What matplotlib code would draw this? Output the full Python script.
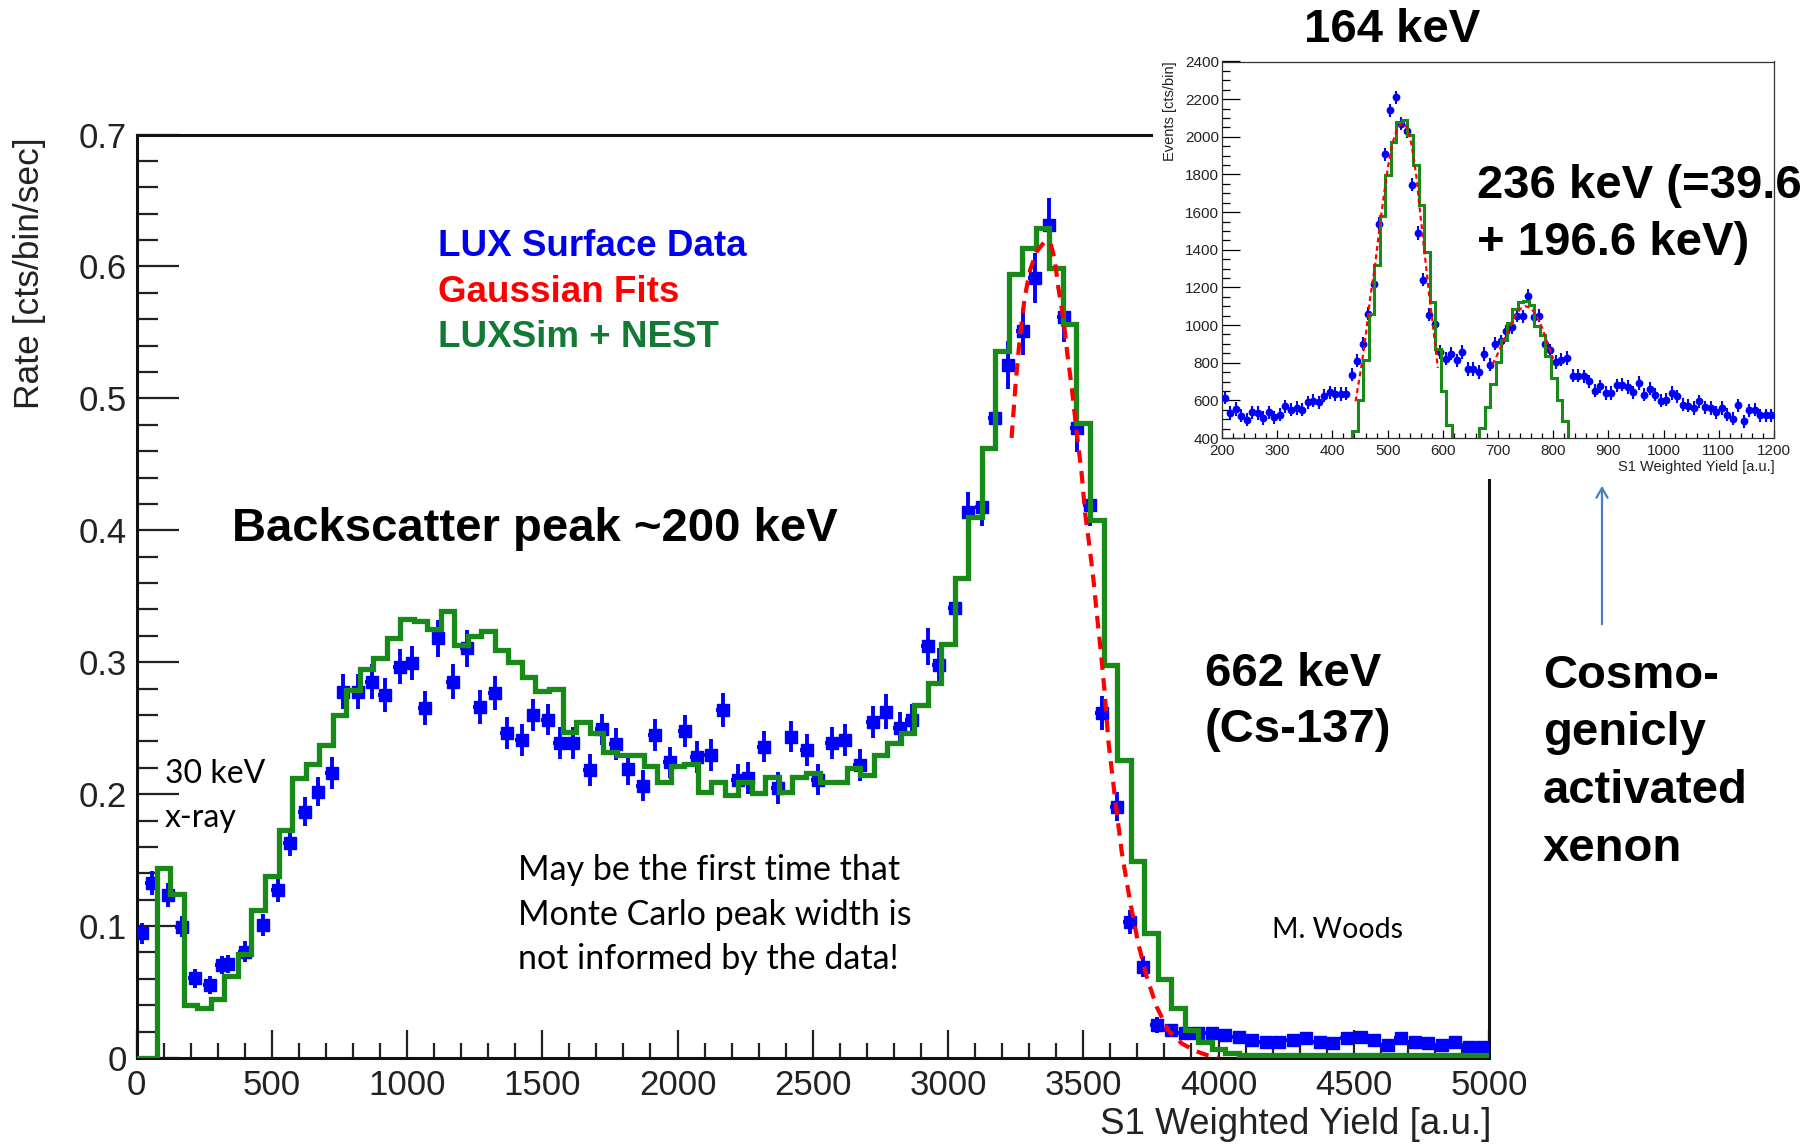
import matplotlib
matplotlib.use("Agg")
import matplotlib.pyplot as plt
import numpy as np
from matplotlib.patches import Rectangle, FancyArrowPatch
from matplotlib.ticker import MultipleLocator, FixedLocator, FixedFormatter

W, H, DPI = 1817, 1145, 100

# ---------------- main spectrum: LUX surface data ----------------
data_x = [19, 56, 118, 167, 216, 272, 315, 340, 401, 469, 524, 568, 623, 672, 722,
          765, 820, 870, 919, 974, 1017, 1066, 1116, 1171, 1220, 1270, 1325, 1368,
          1424, 1467, 1522, 1566, 1615, 1677, 1720, 1772, 1818, 1871, 1917, 1972,
          2026, 2071, 2124, 2169, 2224, 2261, 2320, 2372, 2421, 2477, 2520, 2572,
          2618, 2674, 2723, 2772, 2821, 2867, 2927, 2967, 3026, 3075, 3124, 3174,
          3223, 3278, 3322, 3375, 3427, 3476, 3525, 3568, 3623, 3672, 3722, 3771,
          3825, 3875, 3925, 3975, 4025, 4075, 4125, 4175, 4225, 4275, 4325, 4375,
          4425, 4475, 4525, 4575, 4625, 4675, 4725, 4775, 4825, 4875, 4925, 4975]
data_y = [0.0945, 0.1324, 0.1236, 0.0995, 0.0604, 0.0553, 0.0705, 0.0713, 0.0806,
          0.1008, 0.1274, 0.1628, 0.1867, 0.2019, 0.2158, 0.2777, 0.2777, 0.2853,
          0.2752, 0.2967, 0.2992, 0.2651, 0.3182, 0.2853, 0.3106, 0.2663, 0.2765,
          0.2462, 0.2411, 0.2600, 0.2565, 0.2390, 0.2386, 0.2183, 0.2490, 0.2380,
          0.2190, 0.2065, 0.2449, 0.2240, 0.2480, 0.2280, 0.2297, 0.2638, 0.2110,
          0.2120, 0.2360, 0.2045, 0.2436, 0.2335, 0.2110, 0.2390, 0.2410, 0.2220,
          0.2545, 0.2626, 0.2500, 0.2563, 0.3120, 0.2980, 0.3410, 0.4140, 0.4180,
          0.4850, 0.5254, 0.5507, 0.5911, 0.6315, 0.5620, 0.4774, 0.4193, 0.2613,
          0.1905, 0.1033, 0.0692, 0.0250,
          0.0210, 0.0187, 0.0187, 0.0187, 0.0174, 0.0162, 0.0136, 0.0124, 0.0124,
          0.0136, 0.0149, 0.0124, 0.0111, 0.0149, 0.0162, 0.0136, 0.0099, 0.0149,
          0.0124, 0.0111, 0.0099, 0.0124, 0.0087, 0.0087]
data_yerr = [0.008, 0.009, 0.009, 0.008, 0.007, 0.007, 0.007, 0.007, 0.008, 0.008,
             0.009, 0.010, 0.011, 0.011, 0.012, 0.013, 0.013, 0.013, 0.013, 0.013,
             0.013, 0.013, 0.014, 0.013, 0.014, 0.013, 0.013, 0.012, 0.012, 0.012,
             0.012, 0.012, 0.012, 0.012, 0.012, 0.012, 0.012, 0.012, 0.012, 0.012,
             0.012, 0.012, 0.012, 0.013, 0.012, 0.012, 0.012, 0.012, 0.012, 0.012,
             0.012, 0.012, 0.012, 0.012, 0.012, 0.013, 0.012, 0.012, 0.014, 0.013,
             0.015, 0.015, 0.015, 0.017, 0.018, 0.018, 0.019, 0.020, 0.019, 0.018,
             0.016, 0.013, 0.011, 0.009, 0.008, 0.006,
             0.004, 0.004, 0.004, 0.004, 0.004, 0.004, 0.004, 0.004, 0.004, 0.004,
             0.004, 0.004, 0.004, 0.004, 0.004, 0.004, 0.004, 0.004, 0.004, 0.004,
             0.004, 0.004, 0.004, 0.004]
data_xerr = 25

# LUXSim + NEST histogram (bin centres, width 50)
mc_center = [0, 50, 100, 150, 200, 250, 300, 350, 400, 450, 500, 550, 600, 650, 700,
             750, 800, 850, 900, 950, 1000, 1050, 1100, 1150, 1200, 1250, 1300, 1350,
             1400, 1450, 1500, 1550, 1600, 1650, 1700, 1750, 1800, 1850, 1900, 1950,
             2000, 2050, 2100, 2150, 2200, 2250, 2300, 2350, 2400, 2450, 2500, 2550,
             2600, 2650, 2700, 2750, 2800, 2850, 2900, 2950, 3000, 3050, 3100, 3150,
             3200, 3250, 3300, 3350, 3400, 3450, 3500, 3550, 3600, 3650, 3700, 3750,
             3800, 3850, 3900, 3950, 4000, 4050, 4100, 4150, 4200, 4250, 4300, 4350,
             4400, 4450, 4500, 4550, 4600, 4650, 4700, 4750, 4800, 4850, 4900, 4950, 5000]
mc_rate = [0.0, 0.0, 0.144, 0.124, 0.040, 0.038, 0.045, 0.062, 0.079, 0.112, 0.138,
           0.173, 0.212, 0.223, 0.237, 0.260, 0.279, 0.295, 0.303, 0.318, 0.333, 0.331,
           0.325, 0.339, 0.313, 0.320, 0.324, 0.309, 0.300, 0.289, 0.278, 0.280, 0.247,
           0.255, 0.246, 0.232, 0.230, 0.230, 0.221, 0.2095, 0.221, 0.223, 0.202, 0.2095,
           0.199, 0.2095, 0.201, 0.213, 0.202, 0.213, 0.216, 0.2095, 0.2095, 0.2196,
           0.2146, 0.2297, 0.2386, 0.2462, 0.2677, 0.284, 0.314, 0.364, 0.410, 0.462,
           0.536, 0.594, 0.614, 0.629, 0.599, 0.5565, 0.481, 0.408, 0.298, 0.226, 0.149,
           0.0945, 0.060, 0.038, 0.021, 0.012, 0.007, 0.004,
           0.002, 0.002, 0.002, 0.002, 0.002, 0.002, 0.002, 0.002, 0.002, 0.002,
           0.002, 0.002, 0.002, 0.002, 0.002, 0.002, 0.002, 0.002, 0.002]
mc_width = 50

# Gaussian fit
fit_x = [3235, 3251, 3266, 3284, 3303, 3327, 3358, 3380, 3395, 3407, 3427, 3441, 3457,
         3476, 3494, 3507, 3523, 3538, 3550, 3563, 3578, 3593, 3618, 3643, 3672, 3703,
         3734, 3771, 3814, 3864, 3919, 3960, 4000]
fit_y = [0.470, 0.514, 0.547, 0.577, 0.597, 0.611, 0.619, 0.617, 0.605, 0.585, 0.560,
         0.534, 0.509, 0.474, 0.443, 0.413, 0.388, 0.362, 0.337, 0.312, 0.280, 0.240,
         0.196, 0.155, 0.120, 0.087, 0.062, 0.039, 0.021, 0.011, 0.005, 0.002, 0.0]

x_ticks = [0, 500, 1000, 1500, 2000, 2500, 3000, 3500, 4000, 4500, 5000]
x_ticklabels = ["0", "500", "1000", "1500", "2000", "2500", "3000", "3500", "4000", "4500", "5000"]
y_ticks = [0, 0.1, 0.2, 0.3, 0.4, 0.5, 0.6, 0.7]
y_ticklabels = ["0", "0.1", "0.2", "0.3", "0.4", "0.5", "0.6", "0.7"]

# ---------------- inset: low-energy region ----------------
in_x = [205, 215, 225, 235, 245, 255, 265, 275, 285, 295, 305, 315, 325, 335, 345, 355,
        365, 375, 385, 395, 405, 415, 425, 435, 445, 455, 465, 475, 485, 495, 505, 515,
        525, 535, 545, 555, 565, 575, 585, 595, 605, 615, 625, 635, 645, 655, 665, 675,
        685, 695, 705, 715, 725, 735, 745, 755, 765, 775, 785, 795, 805, 815, 825, 835,
        845, 855, 865, 875, 885, 895, 905, 915, 925, 935, 945, 955, 965, 975, 985, 995,
        1005, 1015, 1025, 1035, 1045, 1055, 1065, 1075, 1085, 1095, 1105, 1115, 1125,
        1135, 1145, 1155, 1165, 1175, 1185, 1195]
in_y = [613, 533, 554, 519, 497, 536, 533, 506, 536, 510, 524, 568, 551, 559, 551, 590,
        598, 590, 625, 643, 634, 634, 635, 737, 811, 900, 1061, 1218, 1537, 1906, 2140,
        2210, 2070, 2030, 1746, 1489, 1241, 1055, 1008, 857, 822, 848, 813, 857, 767,
        767, 751, 846, 790, 900, 914, 967, 990, 1050, 1047, 1156, 1041, 1050, 901, 866,
        804, 816, 825, 731, 731, 728, 701, 652, 675, 639, 639, 680, 683, 671, 643, 692,
        630, 662, 630, 598, 604, 639, 621, 577, 572, 559, 595, 563, 559, 536, 559, 524,
        503, 574, 489, 547, 551, 520, 520, 520]
in_yerr = 35
in_xerr = 4

in_mc1_lo = 436
in_mc1 = [435, 604, 816, 1061, 1318, 1578, 1799, 1973, 2078, 2087, 2008, 1849, 1636,
          1387, 1123, 873, 652, 471]
in_mc2_lo = 666
in_mc2 = [455, 565, 685, 805, 920, 1010, 1085, 1125, 1128, 1105, 995, 949, 834, 719,
          604, 489]
in_mc_width = 10

in_fit1_x = [442, 453, 461, 468, 477, 485, 493, 501, 509, 518, 527, 536, 544, 552, 559,
             567, 575, 583, 591]
in_fit1_y = [595, 790, 958, 1135, 1312, 1507, 1684, 1844, 1968, 2047, 2074, 2047, 1950,
             1791, 1596, 1383, 1171, 976, 772]
in_fit2_x = [690, 700, 710, 720, 730, 740, 750, 760, 770, 780, 790, 800]
in_fit2_y = [790, 850, 915, 980, 1040, 1085, 1100, 1090, 1050, 985, 900, 820]

in_xticks = [200, 300, 400, 500, 600, 700, 800, 900, 1000, 1100, 1200]
in_yticks = [400, 600, 800, 1000, 1200, 1400, 1600, 1800, 2000, 2200, 2400]

# ---------------- style ----------------
BLUE = "#0000ff"
GREEN = "#178a17"
RED = "#ff0000"
TXT = "#222222"
SANS = ["Liberation Sans", "DejaVu Sans"]
HUM = ["Lato", "DejaVu Sans"]

fig = plt.figure(figsize=(W / DPI, H / DPI), dpi=DPI)
fig.patch.set_facecolor("white")


def fx(px):
    return px / W


def fy(py):
    return 1 - py / H


# main axes
ax = fig.add_axes([fx(136.5), fy(1058), (1489 - 136.5) / W, (1058 - 134.5) / H])
ax.set_zorder(0)
ax.set_xlim(0, 5000)
ax.set_ylim(0, 0.7)
for s in ax.spines.values():
    s.set_linewidth(2.2)
    s.set_color("#111111")
ax.xaxis.set_major_locator(FixedLocator(x_ticks))
ax.xaxis.set_major_formatter(FixedFormatter(x_ticklabels))
ax.yaxis.set_major_locator(FixedLocator(y_ticks))
ax.yaxis.set_major_formatter(FixedFormatter(y_ticklabels))
ax.xaxis.set_minor_locator(MultipleLocator(100))
ax.yaxis.set_minor_locator(MultipleLocator(0.02))
ax.tick_params(axis="x", which="major", direction="in", length=20, width=1.6,
               color="#222222", labelsize=25, labelcolor=TXT, pad=8)
ax.tick_params(axis="x", which="minor", direction="in", length=11, width=1.6, color="#222222")
ax.tick_params(axis="y", which="major", direction="in", length=30, width=1.6,
               color="#222222", labelsize=25, labelcolor=TXT, pad=7)
ax.tick_params(axis="y", which="minor", direction="in", length=15, width=1.6, color="#222222")
for lab in ax.get_xticklabels() + ax.get_yticklabels():
    lab.set_family(SANS)

ax.errorbar(data_x, data_y, yerr=data_yerr, xerr=data_xerr, fmt="s", color=BLUE,
            ms=8, mec=BLUE, elinewidth=2.8, capsize=0, zorder=3, clip_on=True)
mc_edges = np.concatenate([np.array(mc_center) - mc_width / 2,
                           [mc_center[-1] + mc_width / 2]])
ax.stairs(mc_rate, mc_edges, baseline=None, color=GREEN, lw=3.8, zorder=4)
ax.plot(fit_x, fit_y, color=RED, lw=3.0, dashes=(3, 2), zorder=5)

# white block under the inset
fig.add_artist(Rectangle((fx(1153), fy(479)), 1 - fx(1153), 1 - fy(479),
                         transform=fig.transFigure, facecolor="white",
                         edgecolor="none", zorder=1))

# inset axes
axi = fig.add_axes([fx(1222), fy(438), (1774 - 1222) / W, (438 - 61.5) / H])
axi.set_zorder(2)
axi.set_xlim(200, 1200)
axi.set_ylim(400, 2400)
for s in axi.spines.values():
    s.set_linewidth(0.9)
    s.set_color("#333333")
axi.set_xticks(in_xticks)
axi.set_yticks(in_yticks)
axi.xaxis.set_minor_locator(MultipleLocator(20))
axi.yaxis.set_minor_locator(MultipleLocator(50))
axi.tick_params(axis="x", which="major", direction="in", length=6, width=0.9,
                labelsize=11, labelcolor=TXT, pad=4.5)
axi.tick_params(axis="x", which="minor", direction="in", length=3.5, width=0.9)
axi.tick_params(axis="y", which="major", direction="in", length=13, width=0.9,
                labelsize=11, labelcolor=TXT, pad=2)
axi.tick_params(axis="y", which="minor", direction="in", length=6, width=0.9)
for lab in axi.get_xticklabels() + axi.get_yticklabels():
    lab.set_family(SANS)

axi.errorbar(in_x, in_y, yerr=in_yerr, xerr=in_xerr, fmt="o", color=BLUE, ms=4.6,
             mec=BLUE, elinewidth=1.5, capsize=0, zorder=3)
e1 = in_mc1_lo + in_mc_width * np.arange(len(in_mc1) + 1)
e2 = in_mc2_lo + in_mc_width * np.arange(len(in_mc2) + 1)
axi.stairs(in_mc1, e1, baseline=400, color=GREEN, lw=2.2, zorder=4)
axi.stairs(in_mc2, e2, baseline=400, color=GREEN, lw=2.2, zorder=4)
axi.plot(in_fit1_x, in_fit1_y, color=RED, lw=1.6, dashes=(2.2, 1.6), zorder=5)
axi.plot(in_fit2_x, in_fit2_y, color=RED, lw=1.6, dashes=(2.2, 1.6), zorder=5)

# axis titles
fig.text(fx(29), fy(137), "Rate [cts/bin/sec]", rotation=90, ha="center", va="top",
         fontsize=25.5, color=TXT, family=SANS, zorder=3)
fig.text(fx(1491), fy(1124), "S1 Weighted Yield [a.u.]", ha="right", va="center",
         fontsize=26.5, color=TXT, family=SANS, zorder=3)
fig.text(fx(1170), fy(61), "Events [cts/bin]", rotation=90, ha="center", va="top",
         fontsize=10.5, color=TXT, family=SANS, zorder=3)
fig.text(fx(1775), fy(467), "S1 Weighted Yield [a.u.]", ha="right", va="center",
         fontsize=10.5, color=TXT, family=SANS, zorder=3)

# legend-like labels
fig.text(fx(438), fy(256), "LUX Surface Data", color="#0000ee", fontsize=26.5,
         fontweight="bold", family=SANS, va="baseline", zorder=3)
fig.text(fx(438), fy(302), "Gaussian Fits", color=RED, fontsize=26.5,
         fontweight="bold", family=SANS, va="baseline", zorder=3)
fig.text(fx(438), fy(347), "LUXSim + NEST", color="#137a35", fontsize=26.5,
         fontweight="bold", family=SANS, va="baseline", zorder=3)

big = dict(color="black", fontsize=34, fontweight="bold", family=SANS, va="baseline", zorder=3)
fig.text(fx(232), fy(541), "Backscatter peak ~200 keV", **big)
fig.text(fx(1205), fy(686), "662 keV", **big)
fig.text(fx(1205), fy(742), "(Cs-137)", **big)
fig.text(fx(1304), fy(42), "164 keV", **big)
fig.text(fx(1477), fy(198), "236 keV (=39.6", **big)
fig.text(fx(1477), fy(255), "+ 196.6 keV)", **big)
for txt, yb in zip(["Cosmo-", "genicly", "activated", "xenon"], [688, 745, 803, 861]):
    fig.text(fx(1543), fy(yb), txt, **big)

hum = dict(color="black", family=HUM, va="baseline", zorder=3)
fig.text(fx(165), fy(783), "30 keV", fontsize=23, **hum)
fig.text(fx(165), fy(827), "x-ray", fontsize=23, **hum)
for txt, yb in zip(["May be the first time that", "Monte Carlo peak width is",
                    "not informed by the data!"], [880, 925, 969]):
    fig.text(fx(518), fy(yb), txt, fontsize=24.5, **hum)
fig.text(fx(1272), fy(938), "M. Woods", fontsize=20.5, **hum)

# arrow
arr = FancyArrowPatch((fx(1602), fy(627)), (fx(1602), fy(483)),
                      transform=fig.transFigure, arrowstyle="->,head_length=7,head_width=4",
                      color="#4a7fbf", lw=1.6, zorder=3)
fig.add_artist(arr)

fig.savefig("out.png", dpi=DPI, facecolor="white")
